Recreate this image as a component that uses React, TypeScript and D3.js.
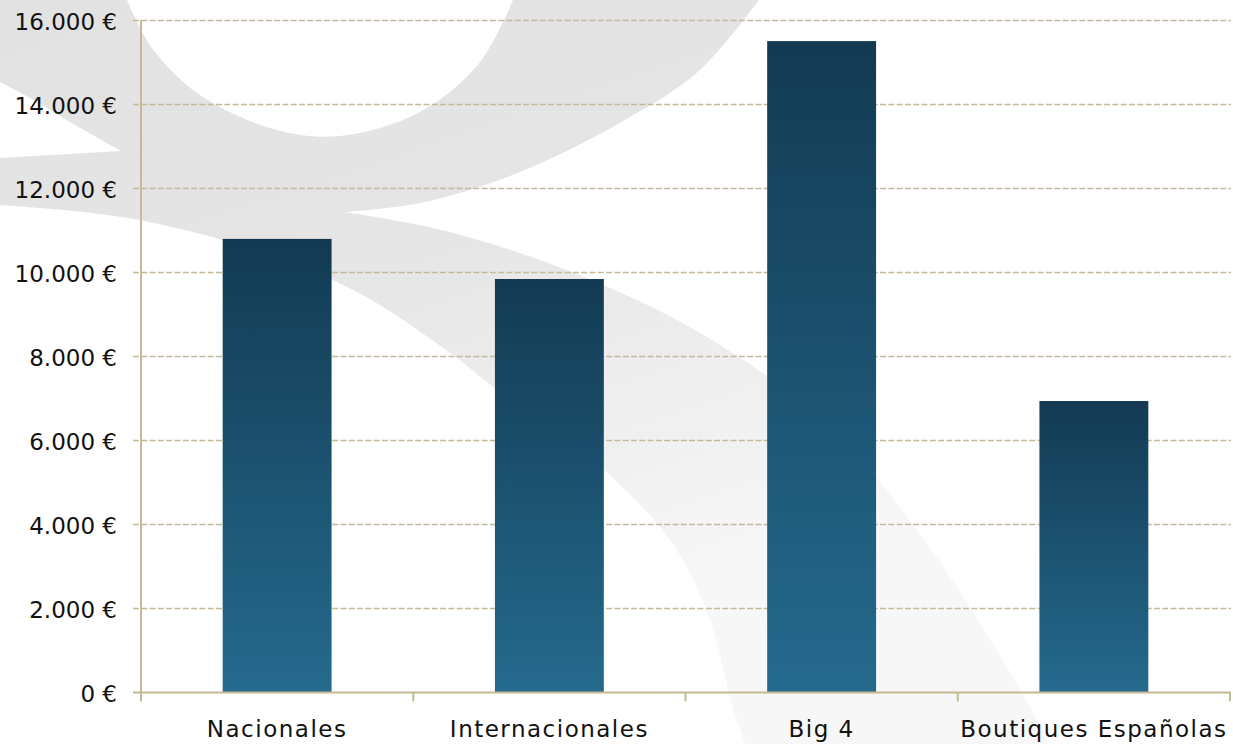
import React from "react";
import * as d3 from "d3";

const categories = ["Nacionales", "Internacionales", "Big 4", "Boutiques Españolas"];
const values = [10800, 9845, 15510, 6940];
const yTicks = [0, 2000, 4000, 6000, 8000, 10000, 12000, 14000, 16000];

const W = 1233;
const H = 744;
const AXIS = "#c4ba93";
const FONT = "'DejaVu Sans', sans-serif";

// watermark outline pieces (decorative background logo)
const innerArc: [number, number][] = [[127, 0], [152, 48], [200, 95], [277, 130], [340, 136], [420, 112], [480, 62], [513, 0]];
const outerRight: [number, number][] = [[759, 0], [700, 70], [625, 120], [520, 172], [420, 203], [344, 212]];
const bandUpper: [number, number][] = [[344, 212], [446, 231], [574, 273], [702, 334], [829, 426], [925, 541], [1010, 672], [1050, 744]];
const bandLower: [number, number][] = [[745, 744], [732, 705], [710, 620], [670, 540], [590, 458], [510, 400], [446, 350], [357, 292], [255, 250], [128, 218], [0, 205]];
const tipUpper: [number, number][] = [[0, 158], [121, 151]];
const outerLeft: [number, number][] = [[121, 151], [70, 122], [30, 98], [0, 82]];

function segment(pts: [number, number][], first: boolean) {
  const d = d3.line<[number, number]>().curve(d3.curveCatmullRom.alpha(0.5))(pts) || "";
  return first ? d : d.replace(/^M/, "L");
}

export default function App() {
  const x = d3.scaleBand<string>().domain(categories).range([141, 1230]).paddingInner(0.6).paddingOuter(0.3);
  const y = d3.scaleLinear().domain([0, 16000]).range([692.5, 20.5]);
  const step = x.step();
  const fmt = (v: number) => d3.format(",")(v).replace(/,/g, ".") + " €";

  const wmPath =
    "M0,0 " +
    segment(innerArc, false) +
    segment(outerRight, false) +
    segment(bandUpper, false) +
    segment(bandLower, false) +
    segment(tipUpper, false) +
    segment(outerLeft, false) +
    "Z";

  return (
    <svg width={W} height={H} style={{ position: "absolute", left: 0, top: 0, background: "#fff" }}>
      <defs>
        <linearGradient id="barGrad" x1="0" y1="0" x2="0" y2="1">
          <stop offset="0%" stopColor="#133a52" />
          <stop offset="100%" stopColor="#256a8e" />
        </linearGradient>
        <linearGradient id="wmGrad" gradientUnits="userSpaceOnUse" x1="0" y1="0" x2="250" y2="744">
          <stop offset="0%" stopColor="#e2e2e2" />
          <stop offset="45%" stopColor="#e5e5e5" />
          <stop offset="100%" stopColor="#f7f7f7" />
        </linearGradient>
      </defs>
      <rect x={0} y={0} width={W} height={H} fill="#fff" />
      <path d={wmPath} fill="url(#wmGrad)" />

      {/* gridlines */}
      {yTicks.filter((t) => t > 0).map((t) => (
        <line key={t} x1={133} x2={1231} y1={y(t)} y2={y(t)} stroke={AXIS} strokeWidth={1.6} strokeDasharray="6 2.3" />
      ))}

      {/* bars */}
      {categories.map((c, i) => (
        <rect key={c} x={x(c)} y={y(values[i])} width={x.bandwidth()} height={y(0) - y(values[i])} fill="url(#barGrad)" />
      ))}

      {/* axes */}
      <line x1={141} x2={141} y1={20} y2={693} stroke={AXIS} strokeWidth={2} />
      <line x1={133} x2={1231} y1={y(0)} y2={y(0)} stroke={AXIS} strokeWidth={2} />
      {d3.range(categories.length + 1).map((i) => (
        <line key={i} x1={141 + i * step} x2={141 + i * step} y1={y(0)} y2={y(0) + 9} stroke={AXIS} strokeWidth={2} />
      ))}

      {/* y labels */}
      {yTicks.map((t) => (
        <text key={t} x={117} y={y(t) + 9.5} textAnchor="end" fontFamily={FONT} fontSize={23} fill="#111">
          {fmt(t)}
        </text>
      ))}

      {/* x labels */}
      {categories.map((c) => (
        <text key={c} x={(x(c) || 0) + x.bandwidth() / 2} y={737} textAnchor="middle" fontFamily={FONT} fontSize={23} letterSpacing={1.5} fill="#111">
          {c}
        </text>
      ))}
    </svg>
  );
}
